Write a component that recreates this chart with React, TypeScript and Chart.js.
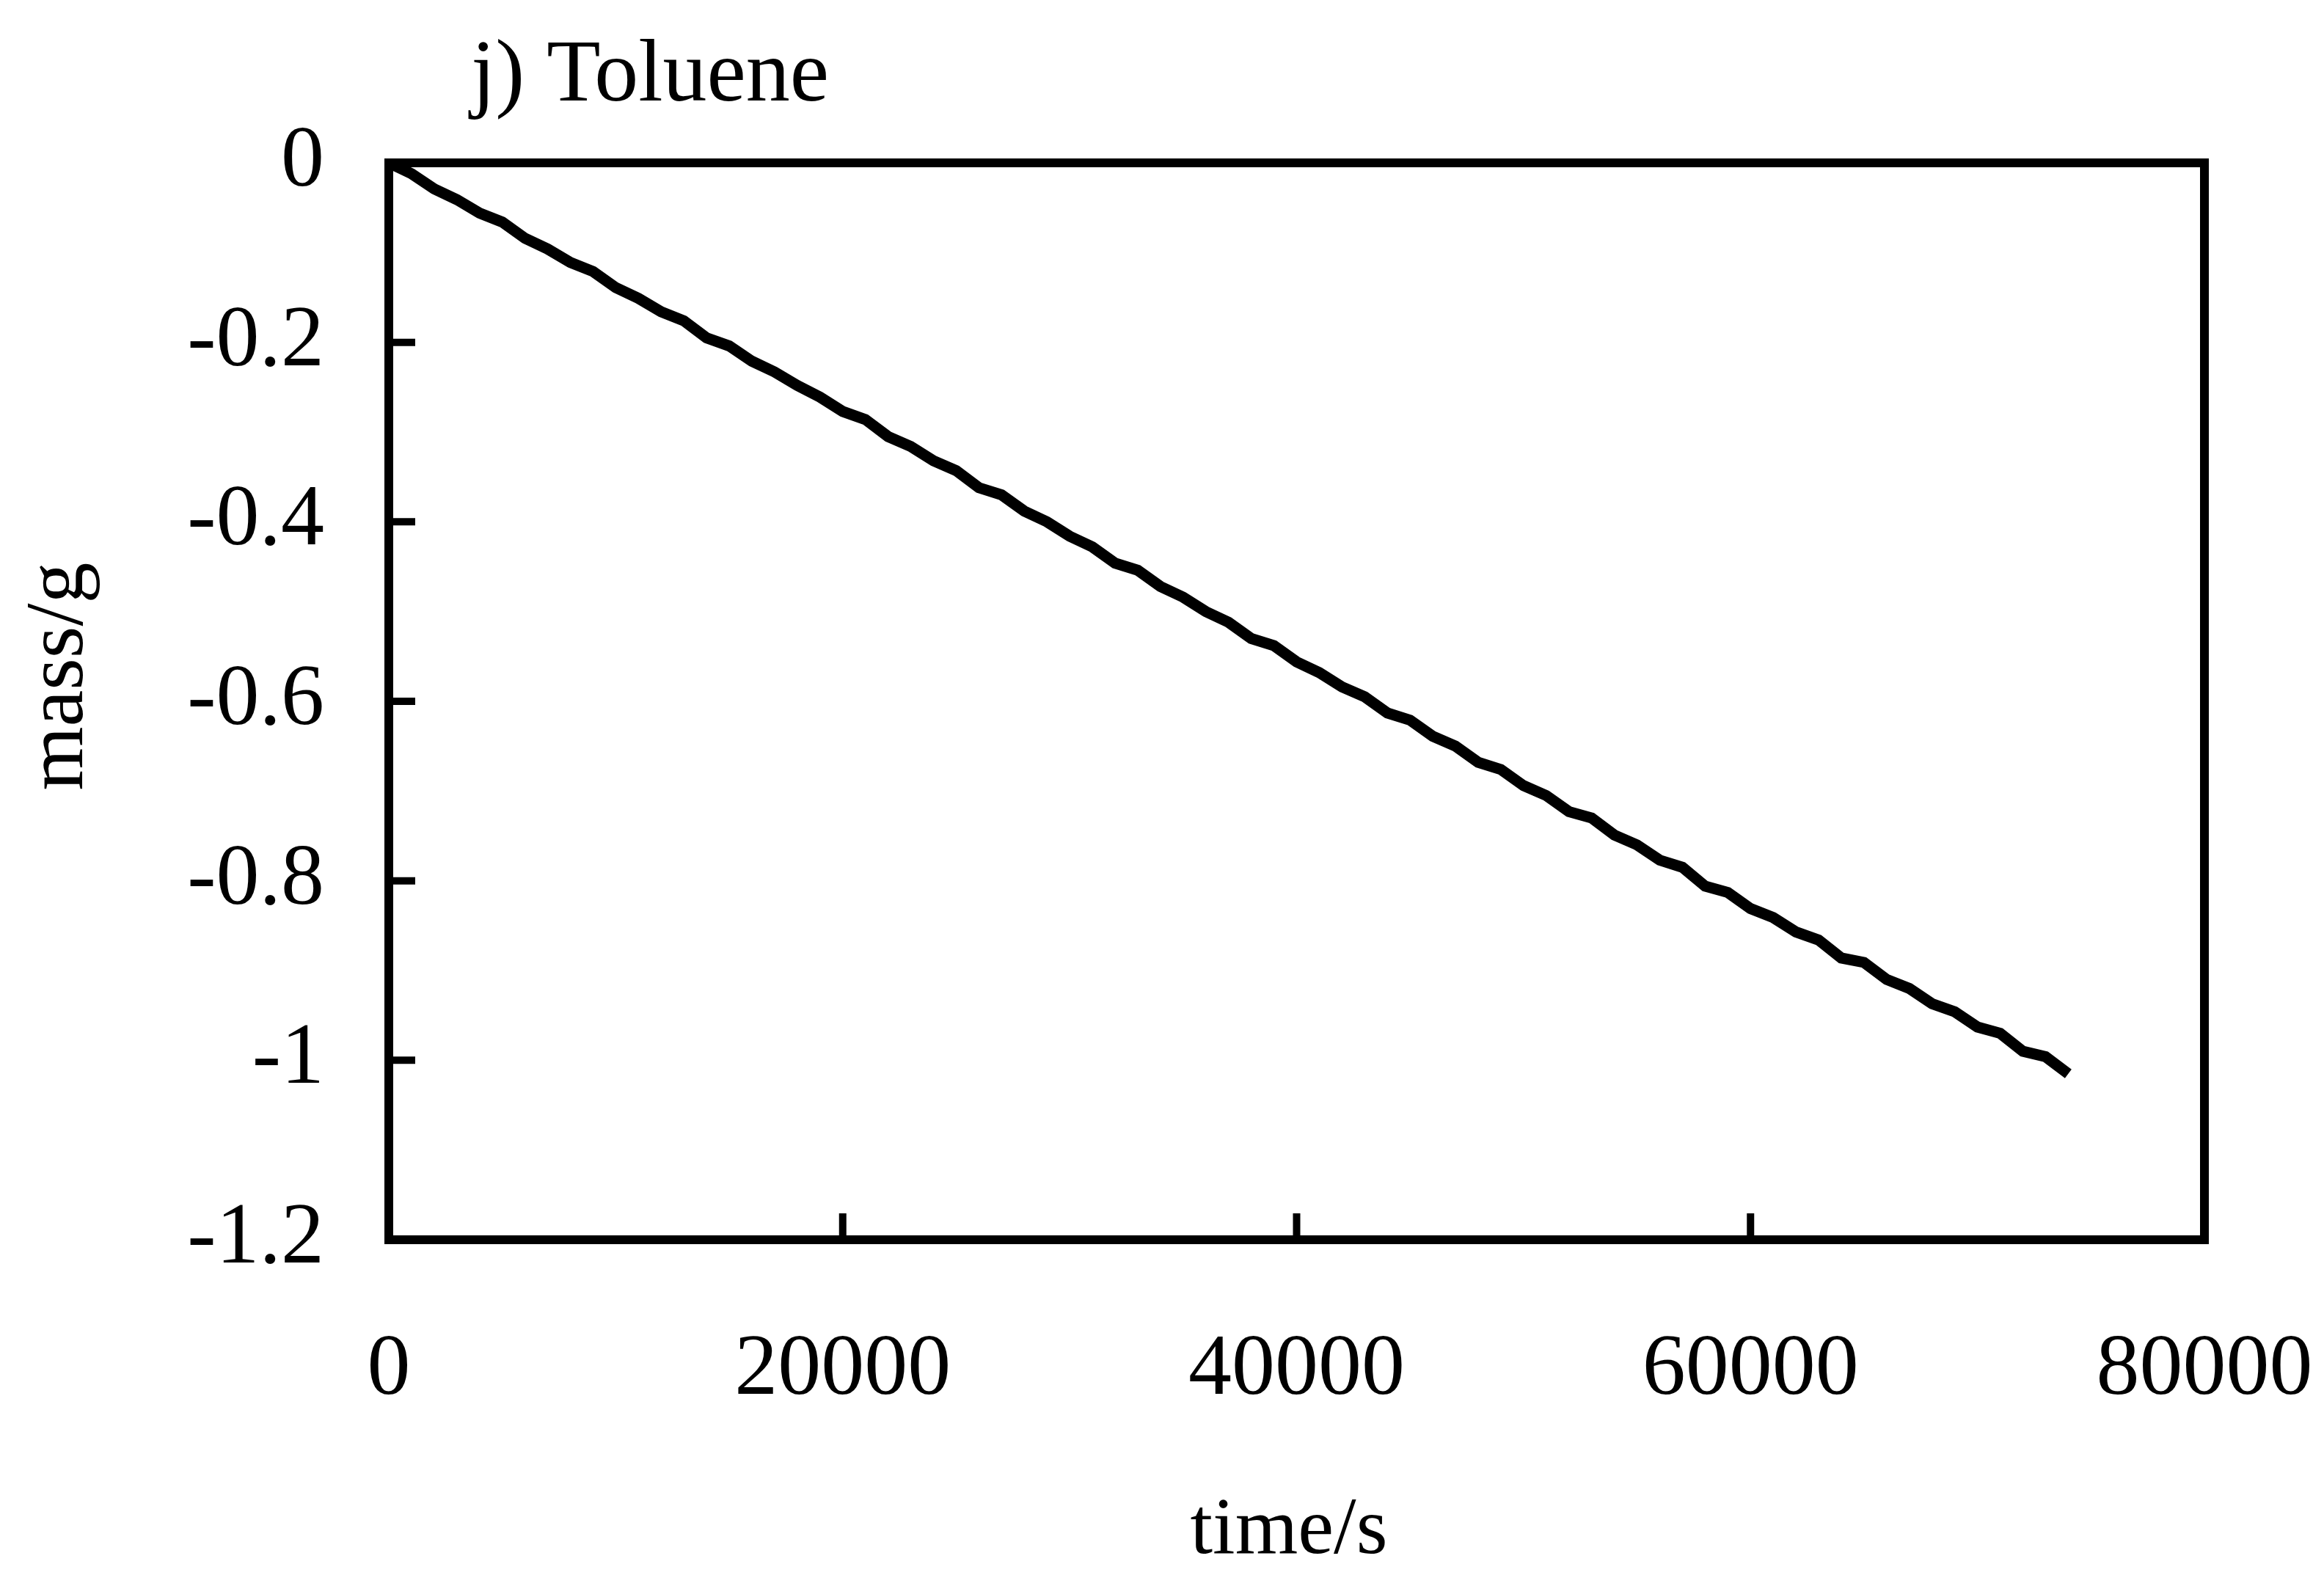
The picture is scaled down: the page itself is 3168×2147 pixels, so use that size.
import React, { useEffect, useRef } from "react";
import { Chart, registerables } from "chart.js";

Chart.register(...registerables);

// Evaporation record: cumulative mass change of the toluene sample over time
const timeS = [
  0, 1000, 2000, 3000, 4000, 5000, 6000, 7000, 8000, 9000,
  10000, 11000, 12000, 13000, 14000, 15000, 16000, 17000, 18000, 19000,
  20000, 21000, 22000, 23000, 24000, 25000, 26000, 27000, 28000, 29000,
  30000, 31000, 32000, 33000, 34000, 35000, 36000, 37000, 38000, 39000,
  40000, 41000, 42000, 43000, 44000, 45000, 46000, 47000, 48000, 49000,
  50000, 51000, 52000, 53000, 54000, 55000, 56000, 57000, 58000, 59000,
  60000, 61000, 62000, 63000, 64000, 65000, 66000, 67000, 68000, 69000,
  70000, 71000, 72000, 73000, 74000,
];

const massG = [
  0.0, -0.012, -0.029, -0.041, -0.056, -0.066, -0.084, -0.096, -0.111, -0.121,
  -0.139, -0.151, -0.166, -0.176, -0.195, -0.204, -0.221, -0.233, -0.248, -0.261,
  -0.277, -0.286, -0.305, -0.316, -0.332, -0.343, -0.362, -0.37, -0.388, -0.4,
  -0.416, -0.428, -0.446, -0.454, -0.472, -0.484, -0.5, -0.512, -0.53, -0.538,
  -0.556, -0.568, -0.584, -0.595, -0.613, -0.621, -0.639, -0.65, -0.668, -0.676,
  -0.694, -0.705, -0.723, -0.73, -0.749, -0.76, -0.777, -0.785, -0.806, -0.813,
  -0.831, -0.841, -0.857, -0.866, -0.886, -0.891, -0.91, -0.92, -0.937, -0.946,
  -0.963, -0.97, -0.99, -0.996, -1.015,
];

const xTickValues = [0, 20000, 40000, 60000, 80000];
const yTickValues = [0, -0.2, -0.4, -0.6, -0.8, -1, -1.2];

const panelTitle = "j) Toluene";
const xTitle = "time/s";
const yTitle = "mass/g";

const W = 3168;
const H = 2147;
const SERIF = "'Liberation Serif', 'DejaVu Serif', serif";

// Box frame, inward tick marks and the text around the plot
const framePlugin = {
  id: "frameAndText",
  afterDraw(chart: any) {
    const { ctx, chartArea: a, scales } = chart;
    const xs = scales.x;
    const ys = scales.y;
    ctx.save();
    ctx.strokeStyle = "#000";
    ctx.lineWidth = 12;
    ctx.lineCap = "square";
    ctx.strokeRect(a.left, a.top, a.right - a.left, a.bottom - a.top);

    ctx.lineWidth = 10;
    ctx.lineCap = "butt";
    const tickLen = 36;
    xTickValues.slice(1, -1).forEach((v) => {
      const px = xs.getPixelForValue(v);
      ctx.beginPath();
      ctx.moveTo(px, a.bottom);
      ctx.lineTo(px, a.bottom - tickLen);
      ctx.stroke();
    });
    yTickValues.slice(1, -1).forEach((v) => {
      const py = ys.getPixelForValue(v);
      ctx.beginPath();
      ctx.moveTo(a.left, py);
      ctx.lineTo(a.left + tickLen, py);
      ctx.stroke();
    });

    ctx.fillStyle = "#000";
    ctx.textBaseline = "alphabetic";
    ctx.font = `120px ${SERIF}`;
    ctx.textAlign = "left";
    ctx.fillText(panelTitle, 642, 137);

    ctx.font = `110px ${SERIF}`;
    ctx.textAlign = "center";
    ctx.fillText(xTitle, 1757, 2117);

    ctx.translate(112, 922);
    ctx.rotate(-Math.PI / 2);
    ctx.font = `112px ${SERIF}`;
    ctx.fillText(yTitle, 0, 0);
    ctx.restore();
  },
};

export default function App() {
  const canvasRef = useRef<HTMLCanvasElement | null>(null);

  useEffect(() => {
    document.body.style.margin = "0";
    const canvas = canvasRef.current;
    if (!canvas) return;
    const chart = new Chart(canvas, {
      type: "line",
      data: {
        datasets: [
          {
            data: timeS.map((t, i) => ({ x: t, y: massG[i] })),
            borderColor: "#000",
            borderWidth: 15,
            borderJoinStyle: "miter",
            pointRadius: 0,
            tension: 0,
            fill: false,
          },
        ],
      },
      options: {
        responsive: false,
        animation: false,
        devicePixelRatio: 1,
        layout: { padding: { left: 0, top: 222, right: 163, bottom: 0 } },
        plugins: {
          legend: { display: false },
          tooltip: { enabled: false },
          title: { display: false },
        },
        scales: {
          x: {
            type: "linear",
            min: 0,
            max: 80000,
            afterFit: (s: any) => {
              s.height = H - 1690;
              s.paddingLeft = 0;
              s.paddingRight = 0;
            },
            afterBuildTicks: (s: any) => {
              s.ticks = xTickValues.map((v) => ({ value: v }));
            },
            grid: { display: false, drawTicks: false },
            border: { display: false },
            ticks: {
              padding: 108,
              color: "#000",
              maxRotation: 0,
              font: { family: SERIF, size: 118 },
              callback: (v: any) => String(v),
            },
          },
          y: {
            type: "linear",
            min: -1.2,
            max: 0,
            afterFit: (s: any) => {
              s.width = 530;
              s.paddingTop = 0;
              s.paddingBottom = 0;
            },
            afterBuildTicks: (s: any) => {
              s.ticks = yTickValues.map((v) => ({ value: v }));
            },
            grid: { display: false, drawTicks: false },
            border: { display: false },
            ticks: {
              padding: 88,
              color: "#000",
              font: { family: SERIF, size: 118 },
              callback: (v: any) => String(Math.round(Number(v) * 10) / 10),
            },
          },
        },
      },
      plugins: [framePlugin],
    });
    return () => chart.destroy();
  }, []);

  return (
    <div style={{ width: W, height: H, background: "#fff" }}>
      <canvas ref={canvasRef} width={W} height={H} style={{ display: "block" }} />
    </div>
  );
}
